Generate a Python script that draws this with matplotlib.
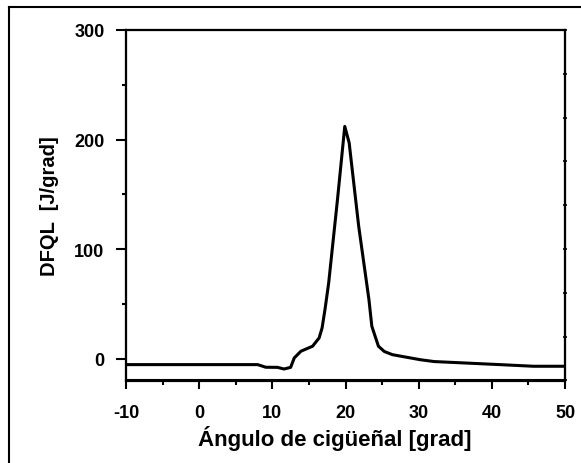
import matplotlib
matplotlib.use("Agg")
import matplotlib.pyplot as plt
from matplotlib.lines import Line2D
import numpy as np

angle = [-10, 4, 8, 9.1, 10.7, 11.6, 12.5, 13.0, 13.9, 15.5, 16.4, 16.8, 17.2, 17.7,
         18.9, 19.9, 20.5, 21.8, 23.2, 23.6, 24.5, 25.3, 26.4, 30.2, 32.1, 41.1, 45.7, 50]
dfql = [-5.5, -5.5, -5.5, -7.9, -8, -9.5, -8, 0.6, 6.7, 11.3, 18.9, 28, 45, 69,
        145, 212, 197, 121, 54, 29.5, 11.3, 6.5, 3.6, -1, -2.7, -5.5, -7, -7]

xticks = [-10, 0, 10, 20, 30, 40, 50]
yticks = [0, 100, 200, 300]

plt.rcParams['font.family'] = ['Liberation Sans', 'DejaVu Sans']
plt.rcParams['font.weight'] = 'bold'

fig = plt.figure(figsize=(5.81, 4.64), dpi=100)
ax = fig.add_axes([126/581, 1-381.5/464, (565-126)/581, (381.5-31)/464])

ax.plot(angle, dfql, color='black', lw=2.2, solid_joinstyle='round')
ax.set_xlim(-10, 50)
ax.set_ylim(-20, 300)
ax.set_xticks(xticks)
ax.set_xticks(np.arange(-5, 50, 10), minor=True)
ax.set_yticks(yticks)
ax.set_yticks([50, 150, 250], minor=True)
ax.set_xticklabels([str(v) for v in xticks], fontsize=13, fontweight='bold')
ax.set_yticklabels([str(v) for v in yticks], fontsize=13, fontweight='bold')
ax.tick_params(axis='x', which='major', direction='out', length=6, width=1.5, pad=11)
ax.tick_params(axis='y', which='major', direction='out', length=7.5, width=1.5, pad=8)
ax.tick_params(which='minor', direction='out', length=3, width=1.5)
for s in ax.spines.values():
    s.set_linewidth(1.5)

# tiny ticks on top and right
axt = ax.twiny()
axt.set_xlim(-10, 50)
axt.set_xticks(np.linspace(-10, 50, 15))
axt.tick_params(axis='x', direction='inout', length=2, width=1.2, labeltop=False)
axr = ax.twinx()
axr.set_ylim(-20, 300)
axr.set_yticks(np.linspace(-20, 300, 9))
axr.tick_params(axis='y', direction='inout', length=3, width=1.2, labelright=False)
for a in (axt, axr):
    for s in a.spines.values():
        s.set_linewidth(1.5)

ax.set_xlabel('Ángulo de cigüeñal [grad]', fontsize=16, fontweight='bold')
ax.xaxis.set_label_coords(0.475, -0.128)
ax.set_ylabel('DFQL  [J/grad]', fontsize=14.5, fontweight='bold', labelpad=11)

# outer frame (left and top edges)
fig.add_artist(Line2D([9/581, 9/581], [0, 1-8/464], transform=fig.transFigure, color='black', lw=1.5))
fig.add_artist(Line2D([9/581, 1], [1-8/464, 1-8/464], transform=fig.transFigure, color='black', lw=1.5))

fig.savefig('out.png', dpi=100)
